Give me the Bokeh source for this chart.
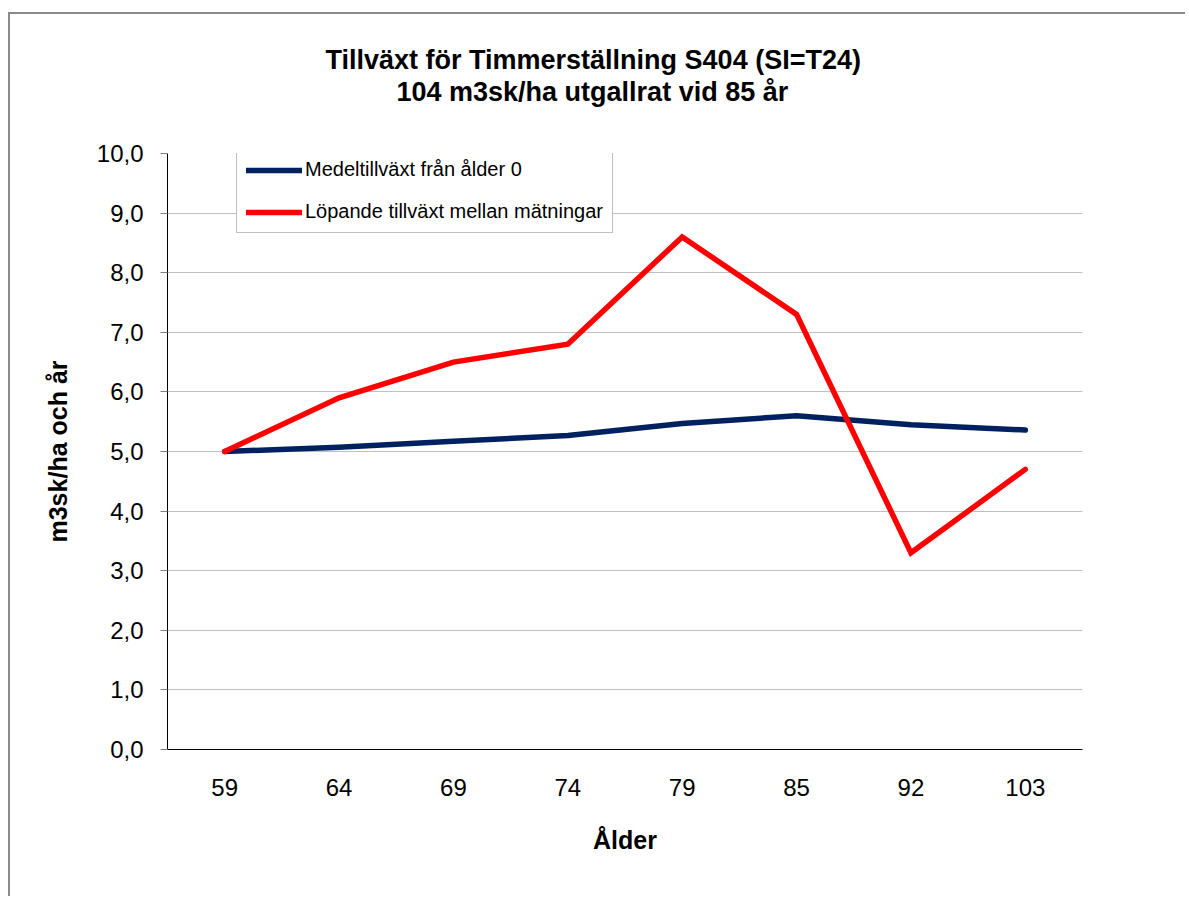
from bokeh.plotting import figure
from bokeh.models import FactorRange, Range1d, FixedTicker, Legend, LegendItem, Title
from bokeh.embed import file_html
from bokeh.resources import INLINE

# ---- data ----
ages = ["59", "64", "69", "74", "79", "85", "92", "103"]
medel = [5.00, 5.07, 5.17, 5.27, 5.47, 5.60, 5.45, 5.36]
lopande = [5.0, 5.9, 6.5, 6.8, 8.6, 7.3, 3.3, 4.7]
y_ticks = [0, 1, 2, 3, 4, 5, 6, 7, 8, 9, 10]
y_tick_labels = ["0,0", "1,0", "2,0", "3,0", "4,0", "5,0", "6,0", "7,0", "8,0", "9,0", "10,0"]
title1 = "Tillväxt för Timmerställning  S404 (SI=T24)"
title2 = "104 m3sk/ha utgallrat vid 85 år"
series_names = ["Medeltillväxt från ålder 0", "Löpande tillväxt mellan mätningar"]

FONT = "Liberation Sans"

p = figure(
    x_range=FactorRange(factors=ages, range_padding=0),
    y_range=Range1d(0, 10),
    width=1177, height=884,
    output_backend="svg", toolbar_location=None,
    min_border_left=157, min_border_right=105,
    min_border_top=139, min_border_bottom=149,
)
p.styles = {"border-left": "2px solid #8a8a8a", "border-top": "2px solid #8a8a8a",
            "margin-top": "12px", "margin-left": "8px"}
p.outline_line_color = None
p.background_fill_color = "white"
p.border_fill_color = "white"

# grid
p.xgrid.grid_line_color = None
p.ygrid.ticker = FixedTicker(ticks=y_ticks)
p.ygrid.grid_line_color = "#7f7f7f"
p.ygrid.grid_line_dash = "1 1"
p.ygrid.grid_line_width = 1

# y axis
p.yaxis.ticker = FixedTicker(ticks=y_ticks)
p.yaxis.major_label_overrides = {t: l for t, l in zip(y_ticks, y_tick_labels)}
p.yaxis.axis_line_color = "black"
p.yaxis.major_tick_line_color = "#808080"
p.yaxis.major_tick_out = 7
p.yaxis.major_tick_in = 0
p.yaxis.minor_tick_line_color = None
p.yaxis.major_label_text_font = FONT
p.yaxis.major_label_text_font_size = "24px"
p.yaxis.major_label_text_color = "black"
p.yaxis.major_label_standoff = 17
p.yaxis.axis_label = "m3sk/ha och år"
p.yaxis.axis_label_text_font = FONT
p.yaxis.axis_label_text_font_size = "25px"
p.yaxis.axis_label_text_font_style = "bold"
p.yaxis.axis_label_text_color = "black"
p.yaxis.axis_label_standoff = 22

# x axis
p.xaxis.axis_line_color = "black"
p.xaxis.major_tick_line_color = None
p.xaxis.major_tick_out = 0
p.xaxis.major_tick_in = 0
p.xaxis.minor_tick_line_color = None
p.xaxis.major_label_text_font = FONT
p.xaxis.major_label_text_font_size = "24px"
p.xaxis.major_label_text_color = "black"
p.xaxis.major_label_standoff = 29
p.xaxis.axis_label = "Ålder"
p.xaxis.axis_label_text_font = FONT
p.xaxis.axis_label_text_font_size = "25px"
p.xaxis.axis_label_text_font_style = "bold"
p.xaxis.axis_label_text_color = "black"
p.xaxis.axis_label_standoff = 27

# lines
r1 = p.line(ages, medel, line_color="#00215f", line_width=5.5, line_cap="round", line_join="round")
r2 = p.line(ages, lopande, line_color="#ff0000", line_width=5.5, line_cap="round", line_join="miter")

legend = Legend(
    items=[LegendItem(label=series_names[0], renderers=[r1]),
           LegendItem(label=series_names[1], renderers=[r2])],
    location=(69, 516), margin=0,
    padding=9, spacing=19,
    glyph_width=56, glyph_height=20, label_height=20, label_standoff=3,
    label_text_font=FONT, label_text_font_size="20px", label_text_color="black",
    border_line_color="#808080", border_line_width=1,
    background_fill_color="white", background_fill_alpha=1.0,
)
p.add_layout(legend, "center")

# titles: first added sits closest to the frame (a blank spacer first)
p.add_layout(Title(text=" ", standoff=33.5, text_font=FONT, text_font_size="10px"), "above")
p.add_layout(Title(text=title2, align="left", offset=229, standoff=0,
                   text_font=FONT, text_font_size="27px", text_font_style="bold",
                   text_color="black"), "above")
p.add_layout(Title(text=title1, align="left", offset=158, standoff=0,
                   text_font=FONT, text_font_size="27px", text_font_style="bold",
                   text_color="black"), "above")

open("out.html", "w").write(file_html(p, INLINE))
